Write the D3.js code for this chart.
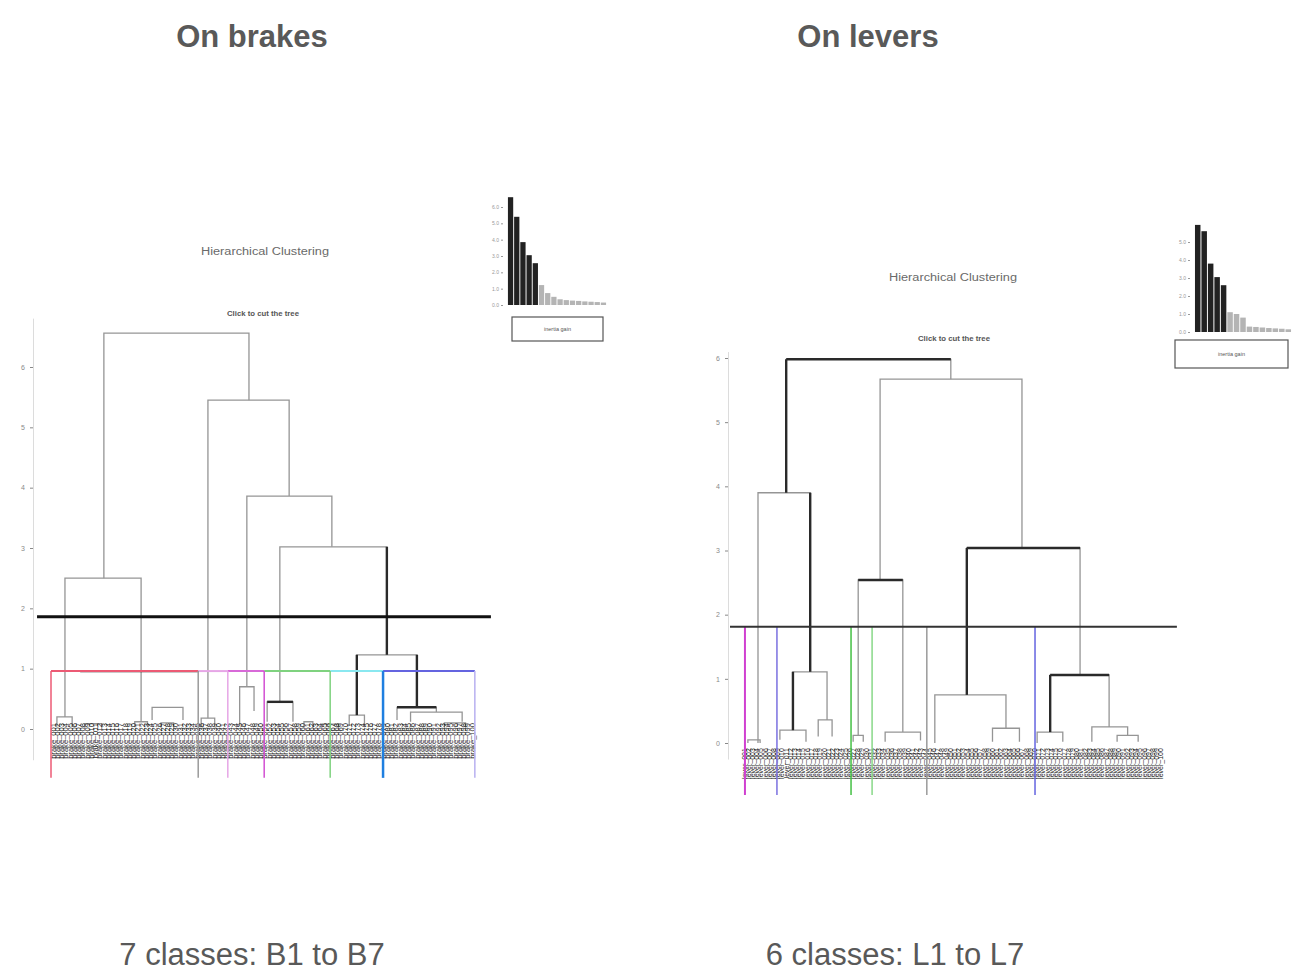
<!DOCTYPE html>
<html>
<head>
<meta charset="utf-8">
<script src="https://cdn.jsdelivr.net/npm/d3@7"></script>
<style>
  body { margin: 0; background: #fff; }
  svg { display: block; font-family: 'Liberation Sans', Arial, sans-serif; }
</style>
</head>
<body>
<svg id="chart" width="1292" height="971"></svg>
<script>
// Texts
const panelTitles = ['On brakes', 'On levers'];
const panelCaptions = ['7 classes: B1 to B7', '6 classes: L1 to L7'];
const plotTitle = 'Hierarchical Clustering';
const plotSubtitle = 'Click to cut the tree';
const insetLabel = 'inertia gain';

// Height axis ticks
const heightTicks = [0, 1, 2, 3, 4, 5, 6];

// Brakes dendrogram
// merges: [left x, right x, height, left child height, right child height], x in leaf units (0-100)
const brakeMerges = [
  [12.5, 46.8, 6.56, 2.50, 5.45],
  [3.3, 21.3, 2.50, 0.20, 0.12],
  [37.1, 56.3, 5.45, 0.18, 3.86],
  [46.3, 66.4, 3.86, 0.70, 3.02],
  [54.1, 79.4, 3.02, 0.45, 1.23],
  [72.3, 86.5, 1.23, 0.23, 0.36],
  [23.9, 31.2, 0.36, 0.15, 0.15],
  [51.1, 57.2, 0.45, 0.12, 0.12],
  [81.8, 91.1, 0.36, 0.15, 0.28],
  [85.0, 97.2, 0.28, 0.12, 0.12],
  [59.8, 61.9, 0.12, 0.02, 0.02],
  [1.4, 5.0, 0.20, 0.04, 0.04],
  [19.8, 22.8, 0.12, 0.03, 0.03],
  [35.5, 38.7, 0.18, 0.03, 0.03],
  [44.6, 48.0, 0.70, 0.05, 0.30],
  [70.5, 74.1, 0.23, 0.05, 0.05],
  [8.0, 12.0, 0.09, 0.02, 0.02],
  [26.0, 29.0, 0.10, 0.02, 0.02],
  [64.0, 68.0, 0.08, 0.02, 0.02],
  [93.0, 98.0, 0.10, 0.02, 0.02]
];
// emphasised segments: [x1, h1, x2, h2]
const brakeBold = [
  [79.4, 3.02, 79.4, 1.23],
  [72.3, 1.23, 72.3, 0.23],
  [86.5, 1.23, 86.5, 0.36],
  [81.8, 0.36, 91.1, 0.36],
  [51.1, 0.45, 57.2, 0.45],
  [6.9, 0.96, 34.8, 0.96]
];
const brakeCut = 1.86;
const brakeClassTop = 0.96;
const brakeClassEdges = [0, 34.8, 41.8, 50.4, 66.0, 78.5, 100.2];
const brakeInertia = [6.6, 5.4, 3.85, 3.05, 2.56, 1.22, 0.73, 0.5, 0.35, 0.3, 0.27, 0.25, 0.22, 0.2, 0.18, 0.15];
const brakeInertiaTicks = [0, 1, 2, 3, 4, 5, 6];
const brakeLeaves = d3.range(1, 101).map(i => 'brake_' + String(i).padStart(3, '0'));

// Levers dendrogram
const leverMerges = [
  [10.5, 49.6, 5.98, 3.90, 5.67],
  [3.8, 16.2, 3.90, 0.0, 1.11],
  [32.8, 66.5, 5.67, 2.54, 3.04],
  [27.6, 38.2, 2.54, 0.12, 0.17],
  [53.4, 80.3, 3.04, 0.75, 1.06],
  [45.8, 62.7, 0.75, 0.0, 0.23],
  [73.2, 87.2, 1.06, 0.17, 0.25],
  [70.1, 76.2, 0.17, 0.0, 0.02],
  [83.1, 91.6, 0.25, 0.02, 0.12],
  [89.1, 94.1, 0.12, 0.02, 0.02],
  [12.1, 20.2, 1.11, 0.20, 0.36],
  [9.0, 15.2, 0.20, 0.05, 0.02],
  [18.1, 21.4, 0.36, 0.10, 0.10],
  [34.0, 42.4, 0.17, 0.02, 0.04],
  [26.4, 28.8, 0.12, 0.02, 0.02],
  [59.5, 65.9, 0.23, 0.02, 0.02],
  [1.4, 4.3, 0.05, 0.0, 0.0]
];
const leverBold = [
  [10.5, 5.98, 10.5, 3.90],
  [10.5, 5.98, 49.6, 5.98],
  [16.2, 3.90, 16.2, 1.11],
  [12.1, 1.11, 12.1, 0.20],
  [27.6, 2.54, 38.2, 2.54],
  [53.4, 3.04, 53.4, 0.75],
  [53.4, 3.04, 80.3, 3.04],
  [73.2, 1.06, 73.2, 0.17],
  [73.2, 1.06, 87.2, 1.06]
];
const leverCut = 1.81;
const leverClassEdges = [0.7, 8.3, 25.9, 30.9, 43.9, 69.6];
const leverInertia = [5.95, 5.6, 3.8, 3.05, 2.6, 1.1, 1.0, 0.8, 0.3, 0.28, 0.25, 0.22, 0.2, 0.18, 0.15];
const leverInertiaTicks = [0, 1, 2, 3, 4, 5];
const leverLeaves = d3.range(1, 101).map(i => 'lever_' + String(i).padStart(3, '0'));

const svg = d3.select('#chart');
const ink = '#595959';

// Panel layouts
const panels = [
  {
    title: panelTitles[0], caption: panelCaptions[0], cx: 252, captionX: 252,
    merges: brakeMerges, bold: brakeBold, cut: brakeCut, leaves: brakeLeaves,
    inertia: brakeInertia, inertiaTicks: brakeInertiaTicks,
    xRange: [51, 474], yRange: [729, 367], axisX: 33, axisSpan: [-0.51, 6.81],
    cutSpan: [-3.3, 104], cutWidth: 3, cutColor: '#111',
    leafTop: 0.1, leafFont: 7.6,
    edges: brakeClassEdges, edgeTop: brakeClassTop, edgeBottom: -0.81,
    edgeColors: ['#ec5a74', '#9a9a9a', '#e6a6e6', '#d24fd2', '#7fd27f', '#1f7fe0', '#b8b0f0'],
    edgeWidths: [1.5, 1.5, 1.5, 1.5, 1.5, 2.5, 1.5],
    topColors: ['#ec5a74', '#e6a6e6', '#d86ad8', '#7fd27f', '#8ae8f0', '#6464e0'],
    titlePos: [265, 255], subtitlePos: [263, 316],
    inset: { x: [507, 607], y: [305, 207], axisX: 503, box: [512, 317, 91, 24] }
  },
  {
    title: panelTitles[1], caption: panelCaptions[1], cx: 868, captionX: 895,
    merges: leverMerges, bold: leverBold, cut: leverCut, leaves: leverLeaves,
    inertia: leverInertia, inertiaTicks: leverInertiaTicks,
    xRange: [742, 1163], yRange: [743, 358], axisX: 728, axisSpan: [-0.25, 6.1],
    cutSpan: [-2.85, 103.3], cutWidth: 2, cutColor: '#333',
    leafTop: -0.08, leafFont: 7,
    edges: leverClassEdges, edgeTop: leverCut, edgeBottom: -0.81,
    edgeColors: ['#d040d0', '#7a70e0', '#44c044', '#88d888', '#9a9a9a', '#6464e0'],
    edgeWidths: [2, 1.5, 1.5, 1.5, 1.5, 1.5],
    topColors: [],
    titlePos: [953, 281], subtitlePos: [954, 341],
    inset: { x: [1194, 1292], y: [332, 224], axisX: 1190, box: [1175, 340, 113, 28] }
  }
];

panels.forEach(p => {
  const g = svg.append('g');
  const x = d3.scaleLinear().domain([0, 100]).range(p.xRange);
  const y = d3.scaleLinear().domain([0, 6]).range(p.yRange);

  // Panel heading and caption
  svg.append('text')
    .attr('x', p.cx).attr('y', 47)
    .attr('text-anchor', 'middle')
    .attr('font-size', 31).attr('font-weight', 'bold')
    .attr('fill', ink)
    .text(p.title);

  svg.append('text')
    .attr('x', p.captionX).attr('y', 965)
    .attr('text-anchor', 'middle')
    .attr('font-size', 31)
    .attr('fill', ink)
    .text(p.caption);

  // Plot title and subtitle
  g.append('text')
    .attr('x', p.titlePos[0]).attr('y', p.titlePos[1])
    .attr('text-anchor', 'middle')
    .attr('font-size', 10).attr('fill', '#6a6a6a')
    .attr('textLength', 128).attr('lengthAdjust', 'spacingAndGlyphs')
    .text(plotTitle);

  g.append('text')
    .attr('x', p.subtitlePos[0]).attr('y', p.subtitlePos[1])
    .attr('text-anchor', 'middle')
    .attr('font-size', 6.5).attr('font-weight', 'bold').attr('fill', '#555')
    .attr('textLength', 72).attr('lengthAdjust', 'spacingAndGlyphs')
    .text(plotSubtitle);

  // Height axis
  const axisScale = y.copy().domain(p.axisSpan).range(p.axisSpan.map(y));
  g.append('g')
    .attr('transform', `translate(${p.axisX},0)`)
    .call(d3.axisLeft(axisScale).tickValues(heightTicks).tickFormat(d3.format('d'))
      .tickSize(3).tickSizeOuter(0).tickPadding(5))
    .call(a => a.select('.domain').attr('stroke', '#dcdcdc'))
    .call(a => a.selectAll('.tick line').attr('stroke', '#888'))
    .call(a => a.selectAll('.tick text').attr('fill', '#8a8a8a').attr('font-size', 7));

  // Merges of the tree
  const link = m => `M${x(m[0])},${y(m[3])}V${y(m[2])}H${x(m[1])}V${y(m[4])}`;
  g.append('g')
    .selectAll('path')
    .data(p.merges)
    .join('path')
    .attr('d', link)
    .attr('fill', 'none')
    .attr('stroke', '#959595')
    .attr('stroke-width', 1.3);

  g.append('g')
    .selectAll('line')
    .data(p.bold)
    .join('line')
    .attr('x1', d => x(d[0])).attr('y1', d => y(d[1]))
    .attr('x2', d => x(d[2])).attr('y2', d => y(d[3]))
    .attr('stroke', '#2a2a2a')
    .attr('stroke-width', 2.4);

  // Leaf labels
  g.append('g')
    .selectAll('text')
    .data(p.leaves)
    .join('text')
    .attr('transform', (d, i) => `translate(${x(i + 0.5)},${y(p.leafTop)}) rotate(-90)`)
    .attr('text-anchor', 'end')
    .attr('dy', '0.35em')
    .attr('font-size', p.leafFont)
    .attr('fill', '#1c1c1c')
    .text(d => d);

  // Class boxes
  for (let i = 0; i < p.topColors.length; i++) {
    g.append('line')
      .attr('x1', x(p.edges[i])).attr('x2', x(p.edges[i + 1]))
      .attr('y1', y(p.edgeTop)).attr('y2', y(p.edgeTop))
      .attr('stroke', p.topColors[i]).attr('stroke-width', 2);
  }
  g.append('g')
    .selectAll('line')
    .data(p.edges)
    .join('line')
    .attr('x1', d => x(d)).attr('x2', d => x(d))
    .attr('y1', y(p.edgeTop)).attr('y2', y(p.edgeBottom))
    .attr('stroke', (d, i) => p.edgeColors[i])
    .attr('stroke-width', (d, i) => p.edgeWidths[i]);

  // Cut line
  g.append('line')
    .attr('x1', x(p.cutSpan[0])).attr('x2', x(p.cutSpan[1]))
    .attr('y1', y(p.cut)).attr('y2', y(p.cut))
    .attr('stroke', p.cutColor)
    .attr('stroke-width', p.cutWidth);

  // Inertia gain inset
  const bx = d3.scaleBand().domain(d3.range(p.inertia.length)).range(p.inset.x).padding(0.15);
  const by = d3.scaleLinear().domain([0, 6]).range(p.inset.y);

  g.append('g')
    .selectAll('rect')
    .data(p.inertia)
    .join('rect')
    .attr('x', (d, i) => bx(i))
    .attr('y', d => by(d))
    .attr('width', bx.bandwidth())
    .attr('height', d => by(0) - by(d))
    .attr('fill', (d, i) => i < 5 ? '#222' : '#b4b4b4');

  g.append('g')
    .attr('transform', `translate(${p.inset.axisX},0)`)
    .call(d3.axisLeft(by).tickValues(p.inertiaTicks).tickFormat(d3.format('.1f'))
      .tickSize(2).tickSizeOuter(0).tickPadding(2))
    .call(a => a.select('.domain').remove())
    .call(a => a.selectAll('.tick line').attr('stroke', '#999'))
    .call(a => a.selectAll('.tick text').attr('fill', '#999').attr('font-size', 5));

  const b = p.inset.box;
  g.append('rect')
    .attr('x', b[0]).attr('y', b[1]).attr('width', b[2]).attr('height', b[3])
    .attr('fill', '#fff').attr('stroke', '#555').attr('stroke-width', 1.2);
  g.append('text')
    .attr('x', b[0] + b[2] / 2).attr('y', b[1] + b[3] / 2)
    .attr('dy', '0.35em').attr('text-anchor', 'middle')
    .attr('font-size', 5.5).attr('fill', '#555')
    .text(insetLabel);
});
</script>
</body>
</html>
